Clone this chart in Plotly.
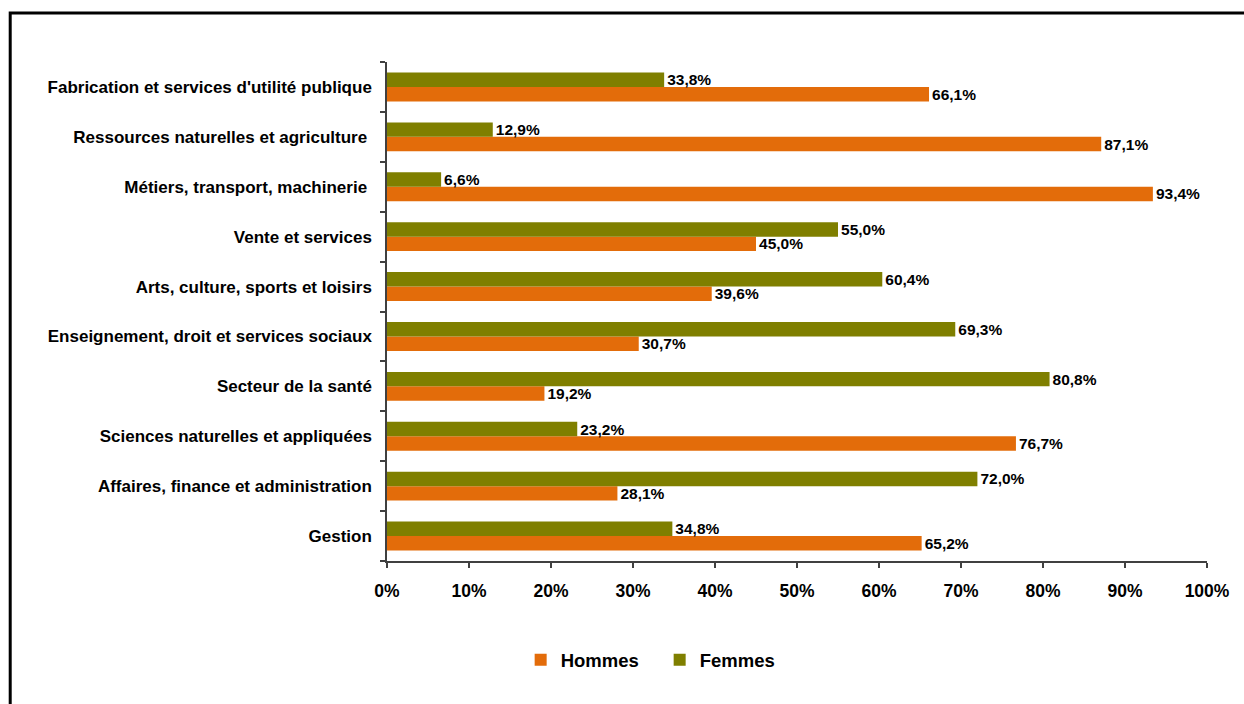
import plotly.graph_objects as go

# Occupational categories, bottom to top
categories = [
    "Gestion",
    "Affaires, finance et administration",
    "Sciences naturelles et appliquées",
    "Secteur de la santé",
    "Enseignement, droit et services sociaux",
    "Arts, culture, sports et loisirs",
    "Vente et services",
    "Métiers, transport, machinerie ",
    "Ressources naturelles et agriculture ",
    "Fabrication et services d'utilité publique",
]

hommes = [65.2, 28.1, 76.7, 19.2, 30.7, 39.6, 45.0, 93.4, 87.1, 66.1]
femmes = [34.8, 72.0, 23.2, 80.8, 69.3, 60.4, 55.0, 6.6, 12.9, 33.8]

x_ticks = [0, 10, 20, 30, 40, 50, 60, 70, 80, 90, 100]
x_tick_labels = [f"{t}%" for t in x_ticks]

ORANGE = "#E36C0A"
OLIVE = "#7F7F00"
FONT = "Liberation Sans, Arial, sans-serif"


def fr_pct(v):
    return f"{v:.1f}%".replace(".", ",")


fig = go.Figure()
for name, vals, color in [("Hommes", hommes, ORANGE), ("Femmes", femmes, OLIVE)]:
    fig.add_trace(go.Bar(
        y=categories,
        x=vals,
        name=name,
        orientation="h",
        marker=dict(color=color, line=dict(width=0)),
        text=[fr_pct(v) for v in vals],
        textposition="outside",
        constraintext="none",
        textfont=dict(family=FONT, size=15.5, color="#000000", weight="bold"),
        cliponaxis=False,
    ))

fig.update_layout(
    barmode="group",
    bargap=0.42,
    bargroupgap=0,
    width=1244,
    height=704,
    margin=dict(l=387, r=37, t=62, b=143),
    paper_bgcolor="white",
    plot_bgcolor="white",
    font=dict(family=FONT, color="#000000"),
    showlegend=True,
    legend=dict(
        orientation="h",
        x=0.163, xanchor="left",
        y=-0.161, yanchor="top",
        font=dict(family=FONT, size=18.5, color="#000000", weight="bold"),
        entrywidth=94,
        entrywidthmode="pixels",
        itemwidth=30,
        traceorder="normal",
    ),
    shapes=[
        dict(type="rect", xref="paper", yref="paper",
             x0=-0.4595, x1=1.06, y0=-0.35, y1=1.0982,
             line=dict(color="#000000", width=3), fillcolor="rgba(0,0,0,0)",
             layer="below"),
    ],
)

fig.update_xaxes(
    range=[0, 100],
    tickvals=x_ticks,
    ticktext=x_tick_labels,
    tickfont=dict(family=FONT, size=17.5, color="#000000", weight="bold"),
    showgrid=False,
    zeroline=False,
    showline=True,
    linecolor="#404040",
    linewidth=1.5,
    ticks="outside",
    ticklen=5,
    tickcolor="#404040",
    tickwidth=1.5,
    ticklabelstandoff=8,
)
fig.update_yaxes(
    categoryorder="array",
    categoryarray=categories,
    tickfont=dict(family=FONT, size=17, color="#000000", weight="bold"),
    showgrid=False,
    showline=True,
    linecolor="#404040",
    linewidth=1.5,
    ticks="outside",
    tickson="boundaries",
    ticklen=5,
    tickcolor="#404040",
    tickwidth=1.5,
    ticklabelstandoff=10,
)

fig.write_html("out.html")
